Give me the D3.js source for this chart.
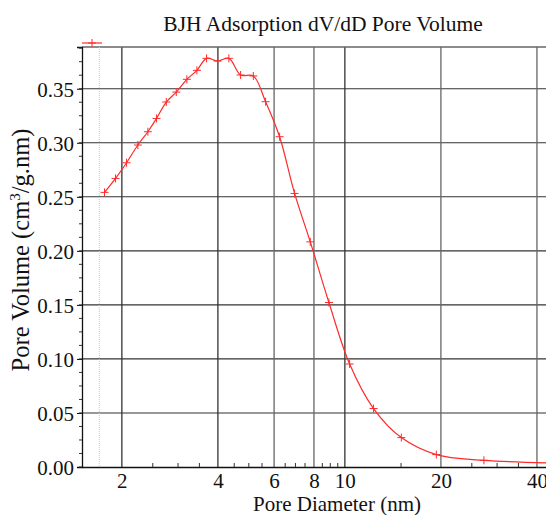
<!DOCTYPE html>
<html>
<head>
<meta charset="utf-8">
<script src="https://d3js.org/d3.v7.min.js"></script>
<style>
  body { margin: 0; background: #fff; }
  text { font-family: 'Liberation Serif', 'Times New Roman', serif; fill: #111; }
</style>
</head>
<body>
<main></main>
<script>
// pore diameter (nm) and dV/dD pore volume (cm3/g.nm)
var diameter = [1.765, 1.911, 2.069, 2.245, 2.413, 2.569, 2.756, 2.962, 3.197, 3.437,
                3.686, 3.991, 4.330, 4.712, 5.165, 5.643, 6.244, 6.957, 7.791, 8.913,
                10.35, 12.30, 15.03, 19.35, 27.28, 60]
var volume = [0.2541, 0.2670, 0.2815, 0.2979, 0.3102, 0.3225, 0.3377, 0.3469, 0.3587, 0.3670,
              0.3781, 0.3756, 0.3781, 0.3627, 0.3618, 0.3380, 0.3056, 0.2531, 0.2083, 0.1522,
              0.0953, 0.0541, 0.0272, 0.0115, 0.0062, 0.0030]

var xTicks = [2, 4, 6, 8, 10, 20, 40]
var xMinor = [2.5, 3, 3.5, 4.5, 5, 5.5, 6.5, 7, 7.5, 8.5, 9, 9.5, 15, 25, 30, 35]
var yTicks = [0, 0.05, 0.10, 0.15, 0.20, 0.25, 0.30, 0.35]
var cutoff = 1.7

var serif = "'Liberation Serif', 'Times New Roman', serif"

var width = 546,
    height = 515,
    plotLeft = 82,
    plotTop = 47,
    plotBottom = 467

var svg = d3.select('main')
    .append('svg')
    .attr('width', width)
    .attr('height', height)

var x = d3.scaleLog()
    .domain([1.5, 42.7])
    .range([plotLeft, width])

var y = d3.scaleLinear()
    .domain([0, 0.3886])
    .range([plotBottom, plotTop])

var yMinor = d3.range(0, 0.3886, 0.0125)

// grid
svg.append('g').selectAll('line').data(yTicks.slice(1))
    .enter().append('line')
    .attr('x1', plotLeft).attr('x2', width)
    .attr('y1', d => y(d)).attr('y2', d => y(d))
    .attr('stroke', '#333')
    .attr('stroke-width', 1.1)

svg.append('g').selectAll('line').data(xTicks)
    .enter().append('line')
    .attr('x1', d => x(d)).attr('x2', d => x(d))
    .attr('y1', plotTop).attr('y2', plotBottom)
    .attr('stroke', function(d){ return (d == 2 || d == 4 || d == 10) ? '#333' : '#666' })
    .attr('stroke-width', 1.3)

// top frame
svg.append('line')
    .attr('x1', plotLeft).attr('x2', width)
    .attr('y1', plotTop).attr('y2', plotTop)
    .attr('stroke', '#666')
    .attr('stroke-width', 1.3)

// cutoff marker
svg.append('line')
    .attr('x1', x(cutoff)).attr('x2', x(cutoff))
    .attr('y1', plotTop).attr('y2', plotBottom)
    .attr('stroke', '#f6b8b8')
    .attr('stroke-dasharray', '1,1')

// axes
var yAxis = d3.axisLeft(y)
    .tickValues(yTicks)
    .tickFormat(d3.format('.2f'))
    .tickSize(5)
    .tickPadding(3)

var yGuide = svg.append('g')
    .attr('transform', 'translate(' + plotLeft + ',0)')
    .call(yAxis)
    .attr('font-family', serif)
yGuide.select('.domain').attr('stroke', '#111').attr('stroke-width', 1.3)
yGuide.selectAll('text')
    .style('font-family', serif)
    .style('font-size', '21px')
    .attr('fill', '#111')
    .attr('dy', '0.36em')

svg.append('g').selectAll('line').data(yMinor)
    .enter().append('line')
    .attr('x1', plotLeft - 3).attr('x2', plotLeft)
    .attr('y1', d => y(d)).attr('y2', d => y(d))
    .attr('stroke', '#333')

var xAxis = d3.axisBottom(x)
    .tickValues(xTicks)
    .tickFormat(d3.format('d'))
    .tickSize(0)
    .tickPadding(6)

var xGuide = svg.append('g')
    .attr('transform', 'translate(0,' + plotBottom + ')')
    .call(xAxis)
    .attr('font-family', serif)
xGuide.select('.domain').attr('stroke', '#111').attr('stroke-width', 1.3)
xGuide.selectAll('text')
    .style('font-family', serif)
    .style('font-size', '21px')
    .attr('fill', '#111')

svg.append('g').selectAll('line').data(xMinor)
    .enter().append('line')
    .attr('x1', d => x(d)).attr('x2', d => x(d))
    .attr('y1', plotBottom - 4).attr('y2', plotBottom)
    .attr('stroke', '#333')

// series
var line = d3.line()
    .x((d, i) => x(diameter[i]))
    .y(d => y(d))
    .curve(d3.curveCatmullRom)

svg.append('path')
    .datum(volume)
    .attr('d', line)
    .attr('fill', 'none')
    .attr('stroke', '#ff2a2a')
    .attr('stroke-width', 1.2)

svg.append('g').selectAll('path').data(volume)
    .enter().append('path')
    .attr('d', 'M-4,0H4M0,-4V4')
    .attr('transform', (d, i) => 'translate(' + x(diameter[i]) + ',' + y(d) + ')')
    .attr('stroke', '#ff2a2a')
    .attr('stroke-width', 1)

// legend
svg.append('line')
    .attr('x1', plotLeft).attr('x2', plotLeft + 20)
    .attr('y1', 43).attr('y2', 43)
    .attr('stroke', '#ff2a2a')
    .attr('stroke-width', 1.2)
svg.append('path')
    .attr('d', 'M-4,0H4M0,-4V4')
    .attr('transform', 'translate(' + (plotLeft + 10) + ',43)')
    .attr('stroke', '#ff2a2a')

// titles
svg.append('text')
    .attr('x', 323).attr('y', 31)
    .attr('text-anchor', 'middle')
    .style('font-size', '21.5px')
    .text('BJH Adsorption dV/dD Pore Volume')

svg.append('text')
    .attr('x', 337).attr('y', 511)
    .attr('text-anchor', 'middle')
    .style('font-size', '21px')
    .text('Pore Diameter (nm)')

svg.append('text')
    .attr('transform', 'translate(29,250) rotate(-90)')
    .attr('text-anchor', 'middle')
    .style('font-size', '24.5px')
    .html('Pore Volume (cm<tspan dy="-9" font-size="15px">3</tspan><tspan dy="9">/g.nm)</tspan>')
</script>
</body>
</html>
